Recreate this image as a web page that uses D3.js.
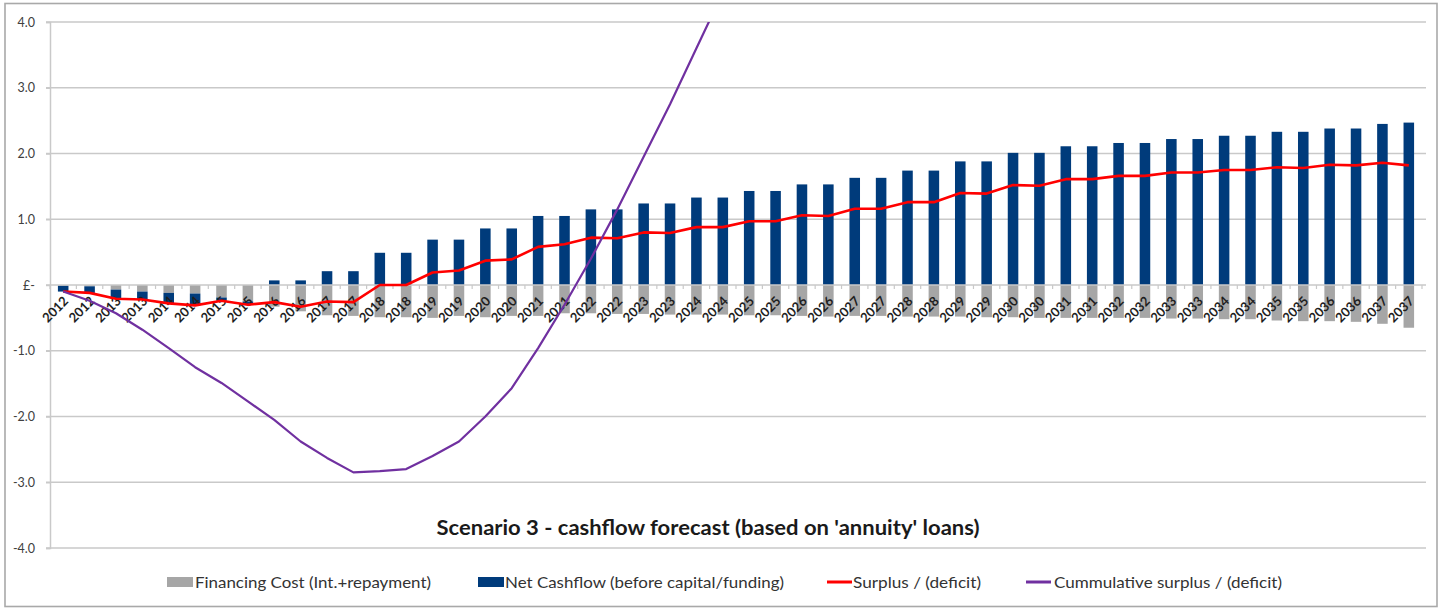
<!DOCTYPE html>
<html>
<head>
<meta charset="utf-8">
<script src="https://cdn.jsdelivr.net/npm/d3@7"></script>
<style>
  body { margin: 0; background: #fff; }
  svg { display: block; font-family: Lato, "Open Sans", sans-serif; }
</style>
</head>
<body>
<svg id="chart" width="1444" height="610"></svg>
<script>
// Half-yearly periods
const categories = [
  "2012","2012","2013","2013","2014","2014","2015","2015","2016","2016",
  "2017","2017","2018","2018","2019","2019","2020","2020","2021","2021",
  "2022","2022","2023","2023","2024","2024","2025","2025","2026","2026",
  "2027","2027","2028","2028","2029","2029","2030","2030","2031","2031",
  "2032","2032","2033","2033","2034","2034","2035","2035","2036","2036",
  "2037","2037"
];

// Financing cost (interest + repayment)
const financingCost = [
  -0.01,-0.02,-0.07,-0.10,-0.12,-0.13,-0.19,-0.25,-0.33,-0.40,
  -0.46,-0.47,-0.49,-0.49,-0.50,-0.47,-0.49,-0.47,-0.47,-0.43,
  -0.43,-0.44,-0.44,-0.45,-0.45,-0.45,-0.46,-0.46,-0.47,-0.48,
  -0.47,-0.47,-0.48,-0.48,-0.48,-0.49,-0.49,-0.50,-0.50,-0.50,
  -0.50,-0.50,-0.51,-0.51,-0.52,-0.52,-0.54,-0.55,-0.55,-0.56,
  -0.59,-0.65
];

// Net cashflow before capital / funding
const netCashflow = [
  -0.09,-0.10,-0.14,-0.12,-0.16,-0.18,-0.05,-0.05, 0.07, 0.07,
   0.21, 0.21, 0.49, 0.49, 0.69, 0.69, 0.86, 0.86, 1.05, 1.05,
   1.15, 1.15, 1.24, 1.24, 1.33, 1.33, 1.43, 1.43, 1.53, 1.53,
   1.63, 1.63, 1.74, 1.74, 1.88, 1.88, 2.01, 2.01, 2.11, 2.11,
   2.16, 2.16, 2.22, 2.22, 2.27, 2.27, 2.33, 2.33, 2.38, 2.38,
   2.45, 2.47
];

// Surplus / (deficit) per period
const surplus = [
  -0.10,-0.12,-0.21,-0.22,-0.28,-0.31,-0.24,-0.30,-0.26,-0.33,
  -0.25,-0.26, 0.00, 0.00, 0.19, 0.22, 0.37, 0.39, 0.58, 0.62,
   0.72, 0.71, 0.80, 0.79, 0.88, 0.88, 0.97, 0.97, 1.06, 1.05,
   1.16, 1.16, 1.26, 1.26, 1.40, 1.39, 1.52, 1.51, 1.61, 1.61,
   1.66, 1.66, 1.71, 1.71, 1.75, 1.75, 1.79, 1.78, 1.83, 1.82,
   1.86, 1.82
];

// Cumulative surplus / (deficit) — runs off the top of the scale after 2024
const cumulative = [
  -0.10,-0.24,-0.43,-0.68,-0.96,-1.25,-1.49,-1.77,-2.05,-2.38,
  -2.63,-2.85,-2.83,-2.80,-2.60,-2.38,-2.00,-1.57,-0.96,-0.30,
   0.40, 1.15, 1.95, 2.75, 3.60, 4.45
];

const yTicks = [-4, -3, -2, -1, 0, 1, 2, 3, 4];

const seriesNames = {
  financing: "Financing Cost (Int.+repayment)",
  net: "Net Cashflow (before capital/funding)",
  surplus: "Surplus / (deficit)",
  cumulative: "Cummulative surplus / (deficit)"
};
const titleText = "Scenario 3 - cashflow forecast (based on 'annuity' loans)";

const colors = {
  financing: "#a6a6a6",
  net: "#003b7b",
  surplus: "#ff0000",
  cumulative: "#7030a0",
  grid: "#c9c9c9",
  frame: "#a9a9a9",
  text: "#404040"
};

const svg = d3.select("#chart");
const plot = { left: 50, right: 1422, top: 22, bottom: 548 };

// chart frame
svg.append("rect")
  .attr("x", 5).attr("y", 3.5)
  .attr("width", 1432).attr("height", 603)
  .attr("fill", "#fff")
  .attr("stroke", colors.frame)
  .attr("stroke-width", 1.6);

const x = d3.scaleBand()
  .domain(d3.range(categories.length))
  .range([plot.left, plot.right])
  .paddingInner(0.6)
  .paddingOuter(0.3);

const step = x.step();
const xc = i => x(i) + x.bandwidth() / 2;

const y = d3.scaleLinear().domain([-4, 4]).range([plot.bottom, plot.top]);

// horizontal gridlines
svg.append("g")
  .selectAll("line")
  .data(yTicks.filter(v => v !== 0))
  .join("line")
  .attr("x1", plot.left - 4).attr("x2", plot.right + 4)
  .attr("y1", d => y(d)).attr("y2", d => y(d))
  .attr("stroke", colors.grid)
  .attr("stroke-width", 1.5);

// y axis
const yAxis = d3.axisLeft(y)
  .tickValues(yTicks)
  .tickSize(4)
  .tickPadding(11)
  .tickFormat(v => v === 0 ? "£-" : v.toFixed(1));

const gy = svg.append("g")
  .attr("transform", `translate(${plot.left},0)`)
  .call(yAxis);
gy.select(".domain").attr("stroke", colors.grid).attr("stroke-width", 1.5);
gy.selectAll(".tick line").attr("stroke", colors.grid).attr("stroke-width", 1.5);
gy.selectAll(".tick text")
  .attr("fill", colors.text)
  .style("font-size", "12.5px")
  .style("font-family", "Lato, sans-serif");

// stacked columns
const table = categories.map((c, i) => ({
  i, financing: financingCost[i], net: netCashflow[i]
}));
const stack = d3.stack()
  .keys(["financing", "net"])
  .offset(d3.stackOffsetDiverging);
const stacked = stack(table);

svg.append("g")
  .selectAll("g")
  .data(stacked)
  .join("g")
  .attr("fill", s => colors[s.key])
  .selectAll("rect")
  .data(s => s)
  .join("rect")
  .attr("x", d => x(d.data.i))
  .attr("width", x.bandwidth())
  .attr("y", d => y(Math.max(d[0], d[1])))
  .attr("height", d => Math.abs(y(d[0]) - y(d[1])));

// category axis along zero
const gx = svg.append("g");
gx.append("line")
  .attr("x1", plot.left - 4).attr("x2", plot.right + 4)
  .attr("y1", y(0)).attr("y2", y(0))
  .attr("stroke", colors.grid).attr("stroke-width", 1.5);
gx.selectAll("line.tick")
  .data(d3.range(categories.length + 1))
  .join("line")
  .attr("class", "tick")
  .attr("x1", i => plot.left + i * step)
  .attr("x2", i => plot.left + i * step)
  .attr("y1", y(0)).attr("y2", y(0) + 4)
  .attr("stroke", colors.grid).attr("stroke-width", 1.2);

gx.selectAll("text")
  .data(categories)
  .join("text")
  .attr("transform", (d, i) => `translate(${xc(i) + 6},${y(0) + 17}) rotate(-45)`)
  .attr("text-anchor", "end")
  .attr("fill", "#1e1e1e")
  .style("font-size", "13px")
  .style("font-weight", "bold")
  .text(d => d);

// clip for lines
svg.append("defs").append("clipPath").attr("id", "plotClip")
  .append("rect")
  .attr("x", plot.left).attr("y", plot.top)
  .attr("width", plot.right - plot.left).attr("height", plot.bottom - plot.top);

const line = d3.line()
  .defined(d => d != null)
  .x((d, i) => xc(i))
  .y(d => y(d));

svg.append("path")
  .datum(surplus)
  .attr("fill", "none")
  .attr("stroke", colors.surplus)
  .attr("stroke-width", 2.6)
  .attr("stroke-linejoin", "round")
  .attr("d", line);

svg.append("path")
  .datum(cumulative)
  .attr("clip-path", "url(#plotClip)")
  .attr("fill", "none")
  .attr("stroke", colors.cumulative)
  .attr("stroke-width", 2.2)
  .attr("stroke-linejoin", "round")
  .attr("d", line);

// title
svg.append("text")
  .attr("x", 708).attr("y", 535)
  .attr("text-anchor", "middle")
  .attr("fill", "#1a1a1a")
  .style("font-size", "20px")
  .style("font-weight", "bold")
  .attr("textLength", 543)
  .attr("lengthAdjust", "spacingAndGlyphs")
  .text(titleText);

// legend
const legendItems = [
  { key: "financing", type: "rect", x: 167, tx: 195, tw: 236 },
  { key: "net", type: "rect", x: 478, tx: 505, tw: 279 },
  { key: "surplus", type: "line", x: 827, tx: 853, tw: 128 },
  { key: "cumulative", type: "line", x: 1026, tx: 1054, tw: 228 }
];
const ly = 582;
const lg = svg.append("g");
legendItems.forEach(it => {
  if (it.type === "rect") {
    lg.append("rect")
      .attr("x", it.x).attr("y", ly - 5)
      .attr("width", 26).attr("height", 10)
      .attr("fill", colors[it.key]);
  } else {
    lg.append("line")
      .attr("x1", it.x).attr("x2", it.x + 25)
      .attr("y1", ly).attr("y2", ly)
      .attr("stroke", colors[it.key])
      .attr("stroke-width", 3);
  }
  lg.append("text")
    .attr("x", it.tx).attr("y", ly + 6)
    .attr("fill", "#333")
    .style("font-size", "16px")
    .attr("textLength", it.tw)
    .attr("lengthAdjust", "spacingAndGlyphs")
    .text(seriesNames[it.key]);
});
</script>
</body>
</html>
